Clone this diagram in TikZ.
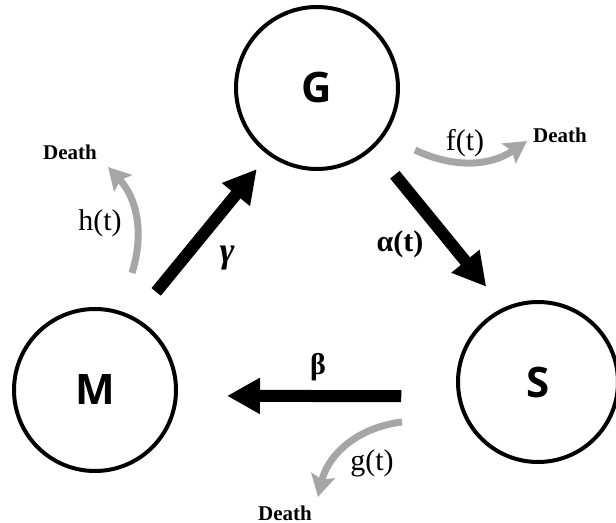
\documentclass[tikz,border=0pt]{standalone}
\usepackage{fontspec}
\setmainfont{Liberation Serif}
\newfontfamily\statefont{Open Sans}
\usetikzlibrary{arrows.meta}

\tikzset{
  state/.style={circle, draw, line width=2pt, minimum size=81pt, inner sep=0pt,
    font=\statefont\bfseries\fontsize{21}{25}\selectfont},
  flow/.style={line width=6pt, -{Triangle[length=16.5pt,width=17pt]}},
  loss/.style={line width=3.5pt, black!35, -{Stealth[length=11pt,width=12pt,inset=2pt]}},
  rate/.style={font=\fontsize{15}{18}\selectfont},
  death/.style={font=\bfseries\fontsize{10.5}{12}\selectfont},
}

\begin{document}
\begin{tikzpicture}[x=0.5pt,y=-0.5pt]
  \useasboundingbox (0,0) rectangle (616,523);

  % compartments
  \node[state] (G) at (317,88) {G};
  \node[state] (M) at (95,390) {M};
  \node[state, minimum size=80pt] (S) at (538,382) {S};

  % transfers between compartments
  \draw[flow, shorten <=16.5pt, shorten >=9pt] (M.61) -- (G.234);
  \draw[flow, shorten <=16.8pt, shorten >=13.5pt] (G.-47) -- (S.115);
  \draw[flow, shorten <=28pt, shorten >=24.6pt] (S.190) -- (M.-4.25);

  \node[font=\bfseries\itshape\fontsize{18}{20}\selectfont] (gam) at (227,258) {γ};
  \node[font=\bfseries\fontsize{15}{18}\selectfont] (alp) at (400,244) {α(t)};
  \node[font=\bfseries\fontsize{15}{18}\selectfont] (bet) at (318,367) {β};

  % deaths
  \coordinate (hs) at (132,273);
  \coordinate (he) at (108,167);
  \coordinate (fs) at (415,150);
  \coordinate (fe) at (527,141);
  \coordinate (gs) at (402,422);
  \coordinate (ge) at (318,497);

  \draw[loss] (hs) to[bend right=30] (he);
  \draw[loss] (fs) to[bend right=30] (fe);
  \draw[loss] (gs) to[bend right=35] (ge);

  \node[rate] (hlab) at (100,223) {h(t)};
  \node[rate] (flab) at (465,143) {f(t)};
  \node[rate] (glab) at (372,463) {g(t)};

  \node[death] (hdeath) at (70,152) {Death};
  \node[death] (fdeath) at (560,135) {Death};
  \node[death] (gdeath) at (285,513) {Death};
\end{tikzpicture}
\end{document}
